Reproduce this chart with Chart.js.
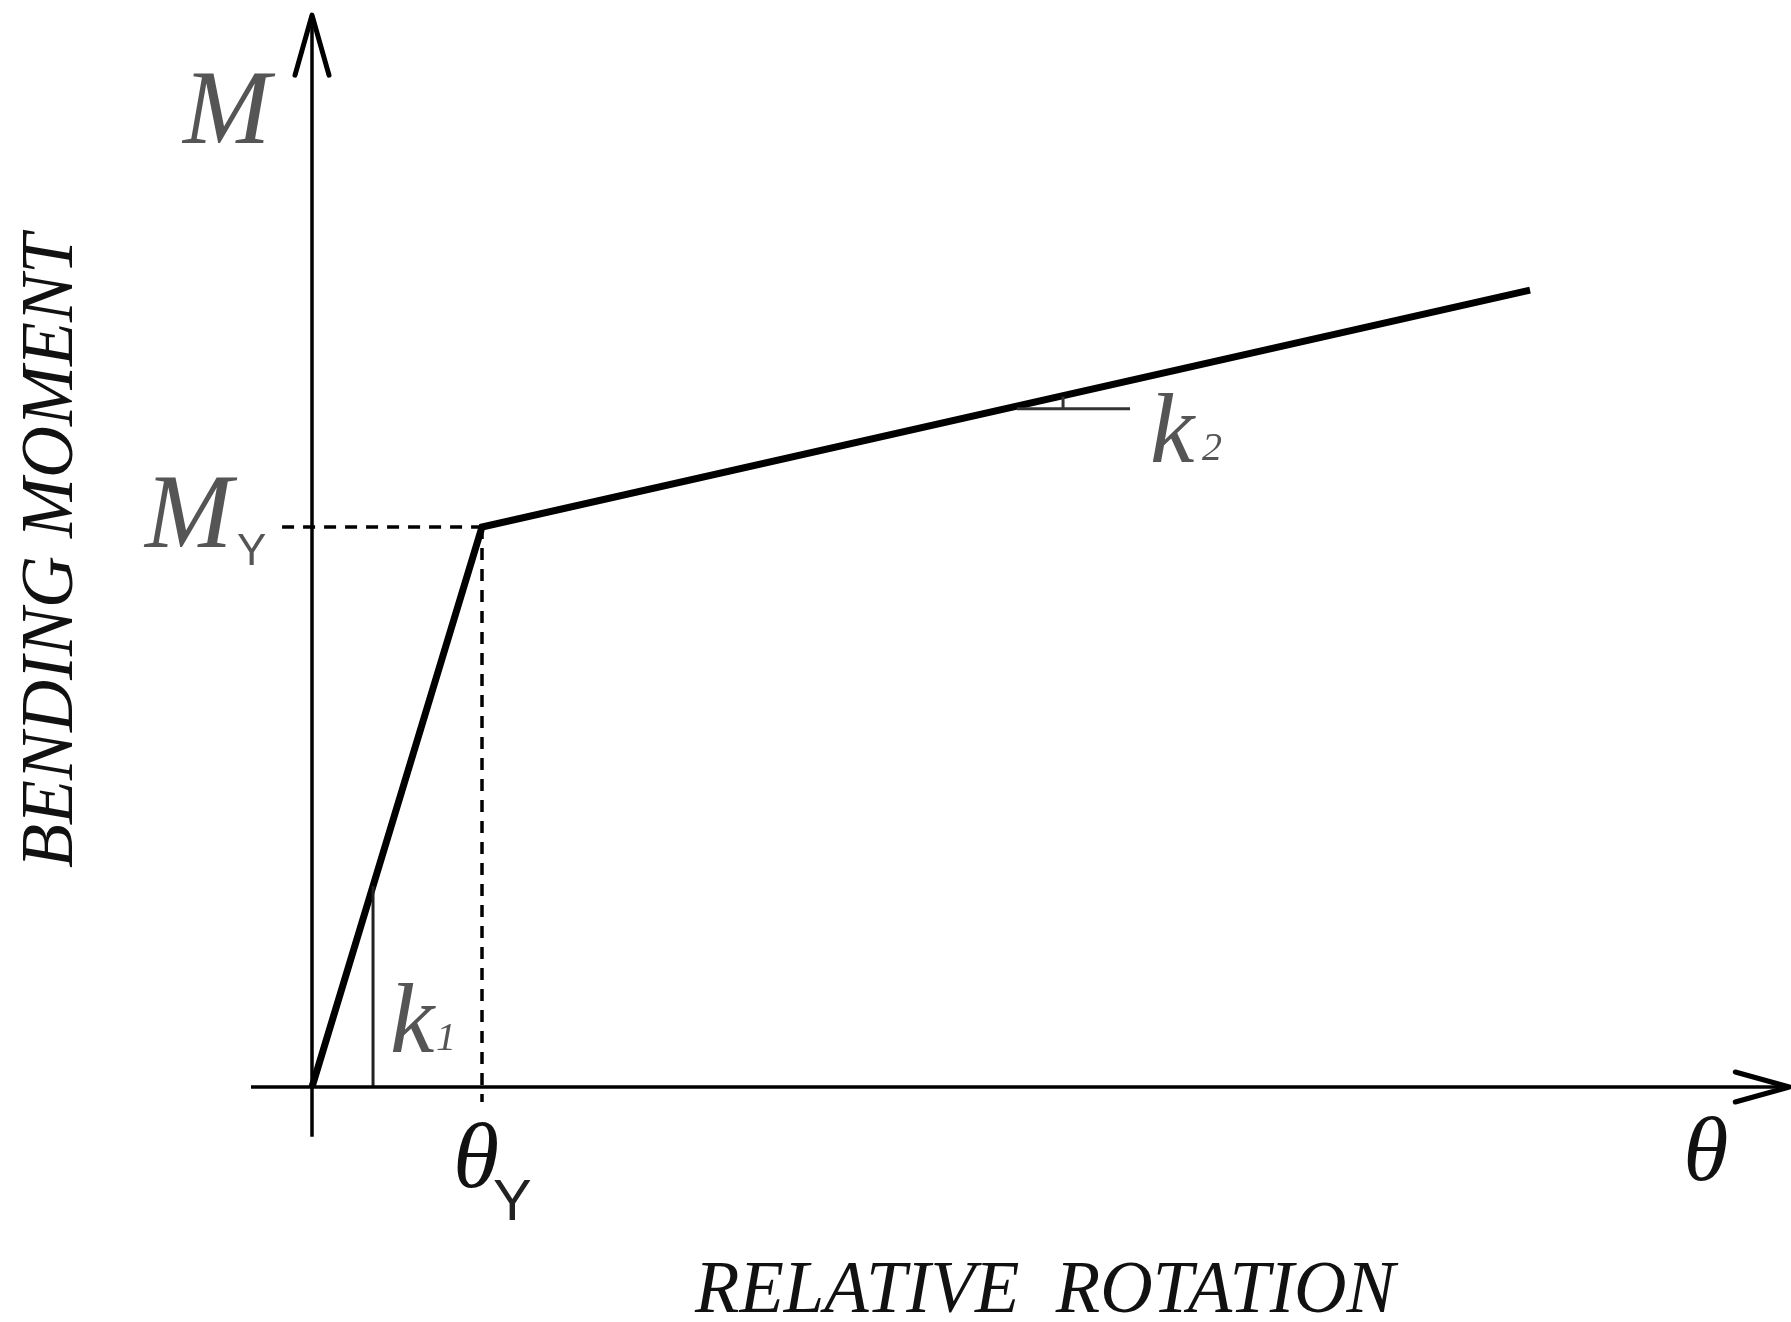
<!DOCTYPE html>
<html><head><meta charset="utf-8">
<script src="https://cdn.jsdelivr.net/npm/chart.js@4.4.1/dist/chart.umd.min.js"></script>
<style>html,body{margin:0;padding:0;background:#fff;overflow:hidden}canvas{display:block}</style>
</head><body>
<canvas id="c" width="1791" height="1322"></canvas>
<script>
// Bilinear moment–rotation law (θ in units of θY, M in units of MY)
const theta  = [0, 1.0, 7.165];
const moment = [0, 1.0, 1.423];
// Axis extents (data units)
const xAxisTheta = [-0.359, 8.69];
const yAxisMoment = [-0.089, 1.914];
// Yield guides (dashed)
const guideHTheta = [-0.176, 1.0], guideHMoment = [1.0, 1.0];
const guideVTheta = [1.0, 1.0],   guideVMoment = [1.0, -0.027];
// Stiffness triangles
const k1Theta = [0.359, 0.359], k1Moment = [0, 0.359];
const k2Theta = [4.147, 4.812], k2Moment = [1.211, 1.211];
const k2TickTheta = [4.418, 4.418], k2TickMoment = [1.211, 1.233];
// Text
const xTitle = 'RELATIVE  ROTATION';
const yTitle = 'BENDING MOMENT';
const axisLabelY = 'M', axisLabelX = 'θ';
const yieldMomentLabel = ['M', 'Y'], yieldRotLabel = ['θ', 'Y'];
const k1Label = ['k', '1'], k2Label = ['k', '2'];

const pts = (xs, ys) => xs.map((x, i) => ({x, y: ys[i]}));
const ds = (xs, ys, w, color, dash) => ({
  data: pts(xs, ys), showLine: true, borderColor: color, borderWidth: w,
  borderDash: dash || [], pointRadius: 0, clip: false, tension: 0,
  borderCapStyle: 'butt', borderJoinStyle: 'miter'
});

const SERIF = '"Liberation Serif", "Times New Roman", serif';
const SANS = '"Liberation Sans", Arial, sans-serif';

function txt(ctx, s, x, y, font, color, targetW) {
  ctx.save();
  ctx.font = font; ctx.fillStyle = color;
  ctx.textBaseline = 'alphabetic'; ctx.textAlign = 'left';
  if (targetW) {
    const w = ctx.measureText(s).width;
    ctx.translate(x, y); ctx.scale(targetW / w, 1); ctx.fillText(s, 0, 0);
  } else ctx.fillText(s, x, y);
  ctx.restore();
}

const decor = {
  id: 'decor',
  afterDatasetsDraw(chart) {
    const ctx = chart.ctx, xs = chart.scales.x, ys = chart.scales.y;
    const X = v => xs.getPixelForValue(v), Y = v => ys.getPixelForValue(v);
    ctx.save();
    ctx.strokeStyle = '#000'; ctx.lineWidth = 5; ctx.lineCap = 'round'; ctx.lineJoin = 'round';
    // y-axis arrow
    const x0 = X(0), yTop = Y(yAxisMoment[1]);
    ctx.beginPath(); ctx.moveTo(x0 - 17, yTop + 60); ctx.lineTo(x0, yTop); ctx.lineTo(x0 + 17, yTop + 60); ctx.stroke();
    // x-axis arrow
    const y0 = Y(0), xEnd = X(xAxisTheta[1]);
    ctx.beginPath(); ctx.moveTo(xEnd - 54, y0 - 15); ctx.lineTo(xEnd, y0); ctx.lineTo(xEnd - 54, y0 + 15); ctx.stroke();
    ctx.restore();

    const gray = '#555', dark = '#111';
    const big = 'italic 105px ' + SERIF;
    // M (axis)
    txt(ctx, axisLabelY, x0 - 129, yTop + 128, big, gray);
    // M_Y
    const yMY = Y(1);
    txt(ctx, yieldMomentLabel[0], x0 - 167, yMY + 20, big, gray);
    txt(ctx, yieldMomentLabel[1], x0 - 75, yMY + 38, '44px ' + SANS, gray);
    // θ axis label
    txt(ctx, axisLabelX, xEnd - 106, y0 + 93, 'italic 92px ' + SERIF, dark);
    // θ_Y
    const xTY = X(1);
    txt(ctx, yieldRotLabel[0], xTY - 29, y0 + 100, 'italic 94px ' + SERIF, dark);
    txt(ctx, yieldRotLabel[1], xTY + 11, y0 + 133, '58px ' + SANS, '#222');
    // k1
    const xk1 = X(k1Theta[0]);
    txt(ctx, k1Label[0], xk1 + 17, y0 - 35, 'italic 100px ' + SERIF, gray);
    txt(ctx, k1Label[1], xk1 + 63, y0 - 37, 'italic 40px ' + SERIF, gray);
    // k2
    const xk2 = X(k2Theta[1]), yk2 = Y(k2Moment[0]);
    txt(ctx, k2Label[0], xk2 + 20, yk2 + 53, 'italic 100px ' + SERIF, gray);
    txt(ctx, k2Label[1], xk2 + 72, yk2 + 51, 'italic 40px ' + SERIF, gray);
    // axis titles
    txt(ctx, xTitle, 695, 1312, 'italic 74px ' + SERIF, dark, 700);
    ctx.save();
    ctx.translate(72, 868); ctx.rotate(-Math.PI / 2);
    txt(ctx, yTitle, 0, 0, 'italic 74px ' + SERIF, dark, 634);
    ctx.restore();
  }
};

new Chart(document.getElementById('c'), {
  type: 'scatter',
  data: { datasets: [
    ds(xAxisTheta, [0, 0], 3.5, '#000'),
    ds([0, 0], yAxisMoment, 3.5, '#000'),
    ds(guideHTheta, guideHMoment, 3.5, '#000', [12, 9]),
    ds(guideVTheta, guideVMoment, 3.5, '#000', [12, 9]),
    ds(k1Theta, k1Moment, 3, '#222'),
    ds(k2Theta, k2Moment, 3, '#333'),
    ds(k2TickTheta, k2TickMoment, 3, '#333'),
    ds(theta, moment, 7, '#000')
  ]},
  options: {
    responsive: false, animation: false, devicePixelRatio: 1,
    layout: { padding: { left: 57, right: 34, top: 23, bottom: 123 } },
    scales: {
      x: { type: 'linear', min: -1.5, max: 8.5, display: false },
      y: { type: 'linear', min: -0.2, max: 1.9, display: false }
    },
    plugins: { legend: { display: false }, tooltip: { enabled: false } },
    events: []
  },
  plugins: [decor]
});
</script>
</body></html>
